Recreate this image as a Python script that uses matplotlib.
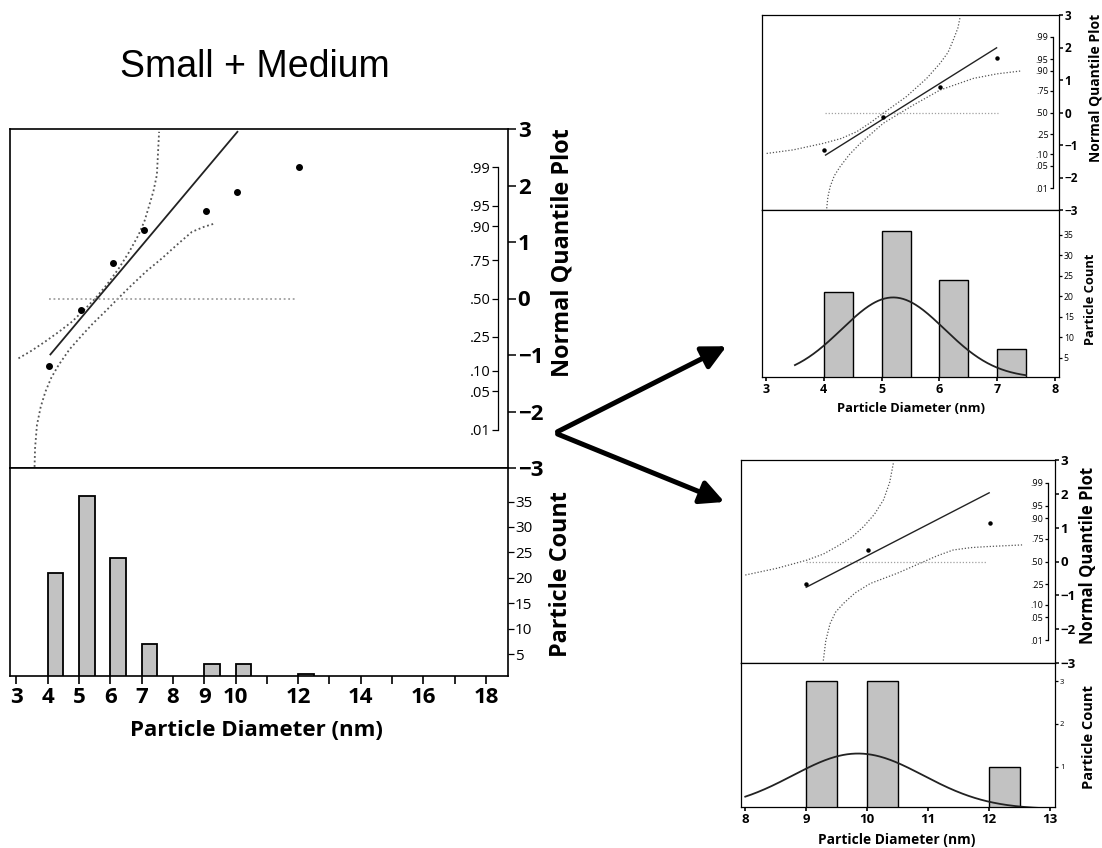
import numpy as np
import matplotlib.pyplot as plt
from matplotlib.patches import FancyArrowPatch
from statistics import NormalDist

plt.rcParams['font.family'] = ['Open Sans', 'DejaVu Sans']

W, H = 1102, 848
BIN_W = 0.5

prob_levels = [0.01, 0.05, 0.10, 0.25, 0.50, 0.75, 0.90, 0.95, 0.99]
prob_labels = ['.01', '.05', '.10', '.25', '.50', '.75', '.90', '.95', '.99']
z_ticks = [-3, -2, -1, 0, 1, 2, 3]

# ---- Small + Medium (left, big panel) ----
sm_bins = [4, 5, 6, 7, 9, 10, 12]
sm_counts = [21, 36, 24, 7, 3, 3, 1]
sm_qq_d = [4.06, 5.07, 6.09, 7.08, 9.06, 10.06, 12.03]
sm_qq_z = [-1.19, -0.20, 0.62, 1.22, 1.55, 1.88, 2.32]
sm_fit_d = [4.09, 10.06]
sm_fit_z = [-0.99, 2.95]
sm_band1_d = [3.07, 3.50, 3.93, 4.36, 4.78, 5.15, 5.52, 5.90, 6.27, 6.60, 6.90, 7.10, 7.22, 7.38, 7.49, 7.56]
sm_band1_z = [-1.06, -0.92, -0.76, -0.59, -0.41, -0.21, 0.00, 0.25, 0.53, 0.82, 1.12, 1.38, 1.60, 1.90, 2.19, 2.95]
sm_band2_d = [3.58, 3.60, 3.66, 3.78, 3.93, 4.12, 4.35, 4.70, 5.10, 5.45, 5.84, 6.25, 6.69, 7.15, 7.65, 8.13, 8.61, 9.00, 9.35]
sm_band2_z = [-3.06, -2.65, -2.24, -1.92, -1.65, -1.40, -1.18, -0.90, -0.65, -0.44, -0.23, 0.00, 0.24, 0.48, 0.71, 0.95, 1.18, 1.27, 1.33]
sm_zero_d = [4.06, 11.96]
sm_xticks = list(range(3, 19))
sm_xlabels = ['3', '4', '5', '6', '7', '8', '9', '10', '', '12', '', '14', '', '16', '', '18']
sm_hist_ticks = [5, 10, 15, 20, 25, 30, 35]

# ---- Small (top right) ----
s_bins = [4, 5, 6, 7]
s_counts = [21, 36, 24, 7]
s_qq_d = [4.01, 5.02, 6.01, 7.00]
s_qq_z = [-1.15, -0.15, 0.78, 1.69]
s_fit_d = [4.03, 6.99]
s_fit_z = [-1.31, 1.99]
s_band1_d = [3.01, 3.47, 3.99, 4.30, 4.57, 4.80, 5.03, 5.43, 5.78, 6.01, 6.15, 6.24, 6.32, 6.36]
s_band1_z = [-1.26, -1.15, -0.95, -0.80, -0.59, -0.32, -0.02, 0.49, 1.05, 1.51, 1.85, 2.23, 2.60, 2.95]
s_band2_d = [4.05, 4.07, 4.11, 4.18, 4.28, 4.44, 4.63, 5.03, 5.55, 6.01, 6.59, 7.00, 7.42]
s_band2_z = [-2.95, -2.60, -2.28, -1.95, -1.67, -1.30, -0.95, -0.33, 0.23, 0.69, 1.05, 1.19, 1.28]
s_zero_d = [4.02, 7.01]
s_fit_mu, s_fit_sigma, s_n, s_curve_lo, s_curve_hi = 5.2, 0.89, 88, 3.5, 7.5
s_xticks = [3, 4, 5, 6, 7, 8]
s_hist_ticks = [5, 10, 15, 20, 25, 30, 35]

# ---- Medium (bottom right) ----
m_bins = [9, 10, 12]
m_counts = [3, 3, 1]
m_qq_d = [9.00, 10.01, 12.02]
m_qq_z = [-0.67, 0.34, 1.15]
m_fit_d = [9.0, 12.0]
m_fit_z = [-0.76, 2.03]
m_band1_d = [8.00, 8.52, 9.01, 9.28, 9.50, 9.75, 9.94, 10.12, 10.27, 10.37, 10.43]
m_band1_z = [-0.40, -0.20, 0.04, 0.22, 0.44, 0.72, 1.03, 1.40, 1.83, 2.35, 2.92]
m_band2_d = [9.28, 9.32, 9.39, 9.48, 9.61, 9.80, 10.05, 10.49, 10.87, 11.15, 11.41, 11.70, 11.96, 12.54]
m_band2_z = [-2.93, -2.35, -1.84, -1.50, -1.24, -0.93, -0.65, -0.35, -0.05, 0.17, 0.34, 0.41, 0.44, 0.49]
m_zero_d = [9.0, 11.97]
m_fit_mu, m_fit_sigma, m_n, m_curve_lo, m_curve_hi = 9.85, 1.07, 7, 8.0, 13.0
m_xticks = [8, 9, 10, 11, 12, 13]
m_hist_ticks = [1, 2, 3]


def rect(x0, y0, x1, y1):
    return [x0 / W, 1 - y1 / H, (x1 - x0) / W, (y1 - y0) / H]


def ftext(fig, px, py, s, **kw):
    fig.text(px / W, 1 - py / H, s, ha='center', va='center', **kw)


def minus(v):
    return str(v).replace('-', '\u2212')


def draw_panel(fig, box, xlim, hist_ylim, bins, counts, qq, fit, band1, band2, zero_d,
               xticks, xlabels, hist_ticks, curve, st):
    x0, y0, ymid, x1, y1 = box
    axq = fig.add_axes(rect(x0, y0, x1, ymid))
    axh = fig.add_axes(rect(x0, ymid, x1, y1))
    for ax in (axq, axh):
        ax.set_xlim(xlim)
        for sp in ax.spines.values():
            sp.set_linewidth(st['spine'])

    # normal quantile plot
    axq.set_ylim(-3, 3)
    dots = (0, (1, 1.5))
    axq.plot(band1[0], band1[1], color='#555555', ls=dots, lw=st['dot'])
    axq.plot(band2[0], band2[1], color='#555555', ls=dots, lw=st['dot'])
    axq.plot(zero_d, [0, 0], color='#a0a0a0', ls=dots, lw=st['dot'])
    axq.plot(fit[0], fit[1], color='#222222', lw=st['fit'])
    axq.plot(qq[0], qq[1], 'o', color='k', ms=st['ms'])
    axq.set_xticks([])
    axq.yaxis.tick_right()
    axq.set_yticks(z_ticks, [minus(v) for v in z_ticks])
    axq.tick_params(axis='y', direction='out', length=st['zlen'], width=1.1,
                    labelsize=st['zfs'], pad=1)
    for lab in axq.get_yticklabels():
        lab.set_fontweight('bold')

    # probability bracket
    axp = fig.add_axes(rect(x0, y0, x1, ymid))
    axp.patch.set_visible(False)
    axp.set_xlim(xlim)
    axp.set_ylim(-3, 3)
    axp.set_xticks([])
    for sp in axp.spines.values():
        sp.set_visible(False)
    zq = [NormalDist().inv_cdf(p) for p in prob_levels]
    axp.spines['left'].set_visible(True)
    axp.spines['left'].set_linewidth(0.9)
    axp.spines['left'].set_position(('axes', st['bracket']))
    axp.spines['left'].set_bounds(zq[0], zq[-1])
    axp.yaxis.set_ticks_position('left')
    axp.set_yticks(zq, prob_labels)
    axp.tick_params(axis='y', direction='out', length=st['plen'], width=0.9,
                    labelsize=st['pfs'], pad=1)

    # histogram
    axh.bar(bins, counts, width=BIN_W, align='edge', color='#c2c2c2',
            edgecolor='k', lw=st['bar'])
    if curve is not None:
        mu, sg, n, lo, hi = curve
        xs = np.linspace(lo, hi, 300)
        ys = n * BIN_W * np.exp(-0.5 * ((xs - mu) / sg) ** 2) / (sg * np.sqrt(2 * np.pi))
        axh.plot(xs, ys, color='#222222', lw=st['curve'])
    axh.set_ylim(hist_ylim)
    axh.yaxis.tick_right()
    axh.set_yticks(hist_ticks)
    axh.tick_params(axis='y', direction='out', length=st['hlen'], width=0.9,
                    labelsize=st['hfs'], pad=1)
    axh.set_xticks(xticks, xlabels)
    axh.tick_params(axis='x', direction='out', length=st['xlen'], width=1.2,
                    labelsize=st['xfs'], pad=st['xpad'])
    for lab in axh.get_xticklabels():
        lab.set_fontweight('bold')

    ftext(fig, *st['nqp_pos'], 'Normal Quantile Plot', rotation=90,
          fontsize=st['nqp'], fontweight='bold')
    ftext(fig, *st['pc_pos'], 'Particle Count', rotation=90,
          fontsize=st['pc'], fontweight='bold')
    ftext(fig, *st['xl_pos'], 'Particle Diameter (nm)',
          fontsize=st['xl'], fontweight='bold')


fig = plt.figure(figsize=(W / 100, H / 100), dpi=100)

big = dict(spine=1.2, dot=1.3, fit=1.3, ms=4.0, zlen=6, zfs=16, bracket=0.979,
           plen=4, pfs=10.5, bar=1.3, curve=1.5, hlen=4, hfs=11, xlen=6, xfs=16, xpad=2,
           nqp=16.8, nqp_pos=(562, 253), pc=16.8, pc_pos=(561, 574),
           xl=16, xl_pos=(256, 730))
draw_panel(fig, (10, 129, 468, 508, 676), (2.80, 18.70), (0.7, 41.6),
           sm_bins, sm_counts, (sm_qq_d, sm_qq_z), (sm_fit_d, sm_fit_z),
           (sm_band1_d, sm_band1_z), (sm_band2_d, sm_band2_z), sm_zero_d,
           sm_xticks, sm_xlabels, sm_hist_ticks, None, big)

small = dict(spine=0.9, dot=0.9, fit=1.0, ms=2.2, zlen=3, zfs=8.5, bracket=0.981,
             plen=2.5, pfs=6.5, bar=1.0, curve=1.3, hlen=2.5, hfs=6.2, xlen=3, xfs=9, xpad=1.5,
             nqp=10, nqp_pos=(1095, 88), pc=9.3, pc_pos=(1090, 299),
             xl=9.4, xl_pos=(911, 408))
draw_panel(fig, (762, 15, 210, 1059, 377), (2.93, 8.07), (0.27, 41.1),
           s_bins, s_counts, (s_qq_d, s_qq_z), (s_fit_d, s_fit_z),
           (s_band1_d, s_band1_z), (s_band2_d, s_band2_z), s_zero_d,
           s_xticks, [str(v) for v in s_xticks], s_hist_ticks,
           (s_fit_mu, s_fit_sigma, s_n, s_curve_lo, s_curve_hi), small)

medium = dict(small, zfs=9.5, pfs=6.5, hfs=5.5, xfs=9.5, nqp=12, nqp_pos=(1088, 555),
              pc=10.5, pc_pos=(1089, 737), xl=9.9, xl_pos=(897, 840), bracket=0.979)
draw_panel(fig, (741, 460, 663, 1055, 807), (7.93, 13.08), (0.05, 3.43),
           m_bins, m_counts, (m_qq_d, m_qq_z), (m_fit_d, m_fit_z),
           (m_band1_d, m_band1_z), (m_band2_d, m_band2_z), m_zero_d,
           m_xticks, [str(v) for v in m_xticks], m_hist_ticks,
           (m_fit_mu, m_fit_sigma, m_n, m_curve_lo, m_curve_hi), medium)

ftext(fig, 255, 67, 'Small + Medium', fontsize=27, family='Liberation Sans')

for tip in [(729, 345), (727, 503)]:
    arr = FancyArrowPatch((555 / W, 1 - 433 / H), (tip[0] / W, 1 - tip[1] / H),
                          transform=fig.transFigure, arrowstyle='-|>',
                          mutation_scale=36, lw=3.6, color='k')
    fig.add_artist(arr)

fig.savefig('out.png', dpi=100)
